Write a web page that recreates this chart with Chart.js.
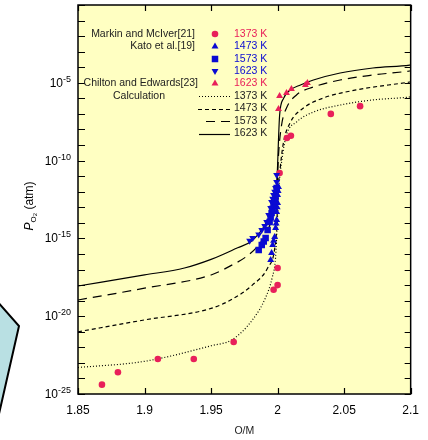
<!DOCTYPE html>
<html>
<head>
<meta charset="utf-8">
<script src="https://cdn.jsdelivr.net/npm/chart.js@4.4.1/dist/chart.umd.min.js"></script>
<style>
  html, body { margin: 0; padding: 0; background: #fff; }
  #wrap { width: 428px; height: 440px; }
</style>
</head>
<body>
<div id="wrap"><canvas id="chart" width="428" height="440"></canvas></div>
<script>
// x axis: O/M ratio, y axis: log10 of P_O2 (atm)
const xTicks = [1.85, 1.9, 1.95, 2, 2.05, 2.1];
const yExpLabels = [-25, -20, -15, -10, -5];

// Markin and McIver [21], 1373 K
const markinOM = [1.868, 1.880, 1.910, 1.937, 1.967, 1.997, 2.000, 2.000, 2.0015, 2.007, 2.010, 2.040, 2.062];
const markinLog = [-24.4, -23.6, -22.75, -22.75, -21.66, -18.3, -18.0, -16.9, -10.8, -8.55, -8.4, -7.0, -6.5];

// Kato et al. [19]
const kato1473OM = [1.9948, 1.9955, 1.9963, 1.9970, 1.9978, 1.9985, 1.9989, 1.9993, 1.9993, 1.9997, 2.0000, 2.0000, 2.0004, 2.0007];
const kato1473Log = [-16.39, -15.94, -15.42, -15.15, -14.91, -14.33, -14.05, -13.82, -13.30, -13.0, -12.72, -12.21, -11.95, -11.70];
const kato1573OM = [1.9858, 1.9881, 1.9896, 1.9910, 1.9925, 1.9940, 1.9948, 1.9955, 1.9963, 1.9970, 1.9978, 1.9985, 1.9993];
const kato1573Log = [-15.75, -15.42, -15.2, -14.97, -14.46, -13.95, -13.65, -13.37, -13.1, -12.85, -12.6, -12.34, -11.76];
const kato1623OM = [1.9790, 1.9813, 1.9858, 1.9881, 1.9903, 1.9918, 1.9933, 1.9948, 1.9955, 1.9963, 1.9970, 1.9978, 1.9985, 1.9993, 1.9993];
const kato1623Log = [-15.15, -14.97, -14.75, -14.46, -14.2, -13.95, -13.5, -13.05, -12.66, -12.45, -12.21, -12.0, -11.76, -11.38, -10.93];

// Chilton and Edwards [23], 1623 K
const chiltonOM = [2.0007, 2.0015, 2.0067, 2.0104, 2.0209, 2.0224];
const chiltonLog = [-6.68, -5.85, -5.66, -5.4, -5.14, -5.01];

// Calculation curves
const calc1373OM = [1.85, 1.9, 1.95, 1.966, 1.981, 1.991, 1.996, 1.9985, 2.0, 2.0012, 2.003, 2.0067, 2.0142, 2.0269, 2.047, 2.0716, 2.0993, 2.1];
const calc1373Log = [-23.3, -22.9, -21.9, -21.5, -20.25, -18.8, -17.5, -16.2, -13.5, -11.5, -10.09, -8.35, -7.52, -6.88, -6.43, -6.1, -5.91, -5.9];
const calc1473OM = [1.85, 1.9, 1.95, 1.966, 1.981, 1.9925, 1.998, 1.9995, 2.0, 2.0022, 2.0045, 2.0097, 2.0194, 2.0343, 2.059, 2.0993, 2.1];
const calc1473Log = [-21.0, -20.24, -19.5, -18.9, -18.0, -16.9, -15.55, -14.0, -12.5, -10.28, -8.8, -7.52, -6.62, -5.98, -5.46, -4.95, -4.94];
const calc1573OM = [1.85, 1.9, 1.95, 1.966, 1.976, 1.985, 1.992, 1.996, 1.999, 2.0, 2.0007, 2.003, 2.0067, 2.0142, 2.0269, 2.047, 2.0716, 2.0993, 2.1];
const calc1573Log = [-18.96, -18.2, -17.35, -16.7, -16.2, -15.5, -14.6, -13.6, -12.2, -11.0, -9.64, -7.71, -6.62, -5.78, -5.27, -4.82, -4.5, -4.24, -4.23];
const calc1623OM = [1.85, 1.9, 1.93, 1.95, 1.97, 1.98, 1.99, 1.995, 1.998, 1.9995, 2.0, 2.0007, 2.0015, 2.0045, 2.0097, 2.0172, 2.0269, 2.047, 2.0716, 2.0993, 2.1];
const calc1623Log = [-18.06, -17.35, -16.9, -16.35, -15.6, -15.2, -14.2, -13.3, -12.2, -11.2, -10.3, -8.6, -7.1, -6.0, -5.46, -5.14, -4.82, -4.37, -4.05, -3.86, -3.85];

const RED = '#e8205a';
const BLUE = '#0a0ad2';
const FONT = "'Liberation Sans', Arial, sans-serif";

function toPoints(xs, logs) {
    return xs.map((x, i) => ({ x: x, y: Math.pow(10, logs[i]) }));
}

function markerSet(label, xs, logs, color, style, radius, rotation) {
    return {
        label: label,
        data: toPoints(xs, logs),
        showLine: false,
        pointStyle: style,
        pointRadius: radius,
        pointRotation: rotation || 0,
        pointBackgroundColor: color,
        pointBorderColor: color,
        pointBorderWidth: 0
    };
}

function curveSet(label, xs, logs, dash) {
    return {
        label: label,
        data: toPoints(xs, logs),
        showLine: true,
        pointRadius: 0,
        borderColor: '#000',
        borderWidth: 1.2,
        borderDash: dash,
        cubicInterpolationMode: 'monotone',
        fill: false
    };
}

// background, decoration and plot area
const backdrop = {
    id: 'backdrop',
    beforeDraw(chart) {
        const ctx = chart.ctx;
        const a = chart.chartArea;
        ctx.save();
        ctx.fillStyle = '#fff';
        ctx.fillRect(0, 0, chart.width, chart.height);
        // light blue shape at the left border
        ctx.beginPath();
        ctx.moveTo(-4, 300);
        ctx.lineTo(19, 326);
        ctx.lineTo(-1, 414);
        ctx.closePath();
        ctx.fillStyle = '#b9e0e3';
        ctx.fill();
        ctx.lineWidth = 2;
        ctx.strokeStyle = '#000';
        ctx.stroke();
        ctx.fillStyle = '#ffffc2';
        ctx.fillRect(a.left, a.top, a.right - a.left, a.bottom - a.top);
        ctx.restore();
    }
};

// frame, inward ticks, y labels with exponent, y title, legend
const overlay = {
    id: 'overlay',
    afterDraw(chart) {
        const ctx = chart.ctx;
        const a = chart.chartArea;
        const xs = chart.scales.x;
        const ys = chart.scales.y;
        ctx.save();
        ctx.strokeStyle = '#000';
        ctx.lineWidth = 1.5;
        ctx.strokeRect(a.left, a.top, a.right - a.left, a.bottom - a.top);

        ctx.lineWidth = 1.2;
        ctx.beginPath();
        xTicks.forEach(v => {
            const px = Math.round(xs.getPixelForValue(v)) + 0.5;
            ctx.moveTo(px, a.bottom); ctx.lineTo(px, a.bottom - 6);
            ctx.moveTo(px, a.top); ctx.lineTo(px, a.top + 6);
        });
        for (let e = -25; e <= 0; e++) {
            const py = Math.round(ys.getPixelForValue(Math.pow(10, e))) + 0.5;
            ctx.moveTo(a.left, py); ctx.lineTo(a.left + 7, py);
            ctx.moveTo(a.right, py); ctx.lineTo(a.right - 6, py);
        }
        ctx.stroke();

        // y tick labels 10^n
        ctx.fillStyle = '#000';
        ctx.textBaseline = 'alphabetic';
        yExpLabels.forEach(e => {
            const py = ys.getPixelForValue(Math.pow(10, e));
            const sup = String(e);
            ctx.font = '9px ' + FONT;
            const w = ctx.measureText(sup).width;
            ctx.textAlign = 'right';
            ctx.fillText(sup, a.left - 7, py - 1);
            ctx.font = '12px ' + FONT;
            ctx.fillText('10', a.left - 7 - w, py + 4);
        });

        // y axis title
        ctx.save();
        ctx.translate(33, 206);
        ctx.rotate(-Math.PI / 2);
        ctx.textAlign = 'left';
        const parts = [
            { t: 'P', f: 'italic 12px ' + FONT, dy: 0 },
            { t: 'O', f: '8px ' + FONT, dy: 3 },
            { t: '2', f: '6px ' + FONT, dy: 4 },
            { t: ' (atm)', f: '12px ' + FONT, dy: 0 }
        ];
        let total = 0;
        parts.forEach(p => { ctx.font = p.f; p.w = ctx.measureText(p.t).width; total += p.w; });
        let cx = -total / 2;
        parts.forEach(p => { ctx.font = p.f; ctx.fillText(p.t, cx, p.dy); cx += p.w; });
        ctx.restore();

        // legend
        const rows = [34, 46.5, 59, 71, 83.5, 96, 108.5, 121, 133.5];
        ctx.font = '10.5px ' + FONT;
        ctx.textBaseline = 'middle';
        ctx.fillStyle = '#222';
        ctx.textAlign = 'right';
        ctx.fillText('Markin and McIver[21]', 195, rows[0]);
        ctx.fillText('Kato et al.[19]', 195, rows[1]);
        ctx.fillText('Chilton and Edwards[23]', 198, rows[4]);
        ctx.textAlign = 'center';
        ctx.fillText('Calculation', 139, rows[5]);

        const mx = 215;
        const keys = [
            { c: RED, s: 'circle', r: 3.3, rot: 0, t: '1373 K' },
            { c: BLUE, s: 'triangle', r: 4, rot: 0, t: '1473 K' },
            { c: BLUE, s: 'rect', r: 4.6, rot: 0, t: '1573 K' },
            { c: BLUE, s: 'triangle', r: 4, rot: 180, t: '1623 K' },
            { c: RED, s: 'triangle', r: 4, rot: 0, t: '1623 K' }
        ];
        keys.forEach((k, i) => {
            ctx.fillStyle = k.c;
            ctx.strokeStyle = k.c;
            Chart.helpers.drawPoint(ctx, { pointStyle: k.s, radius: k.r, rotation: k.rot, borderWidth: 0 }, mx, rows[i]);
            ctx.fillStyle = k.c;
            ctx.textAlign = 'left';
            ctx.fillText(k.t, 234, rows[i]);
        });
        const lines = [
            { d: [1, 2], x0: 199, t: '1373 K' },
            { d: [4, 3], x0: 198, t: '1473 K' },
            { d: [9, 6], x0: 206, t: '1573 K' },
            { d: [], x0: 199, t: '1623 K' }
        ];
        lines.forEach((l, i) => {
            const y = rows[5 + i];
            ctx.strokeStyle = '#000';
            ctx.lineWidth = 1.2;
            ctx.setLineDash(l.d);
            ctx.beginPath();
            ctx.moveTo(l.x0, Math.round(y) + 0.5);
            ctx.lineTo(230, Math.round(y) + 0.5);
            ctx.stroke();
            ctx.setLineDash([]);
            ctx.fillStyle = '#222';
            ctx.textAlign = 'left';
            ctx.fillText(l.t, 234, y);
        });
        ctx.restore();
    }
};

new Chart(document.getElementById('chart'), {
    type: 'scatter',
    data: {
        datasets: [
            markerSet('Chilton 1623 K', chiltonOM, chiltonLog, RED, 'triangle', 4),
            markerSet('Kato 1623 K', kato1623OM, kato1623Log, BLUE, 'triangle', 4, 180),
            markerSet('Kato 1573 K', kato1573OM, kato1573Log, BLUE, 'rect', 4.6),
            markerSet('Kato 1473 K', kato1473OM, kato1473Log, BLUE, 'triangle', 4),
            markerSet('Markin 1373 K', markinOM, markinLog, RED, 'circle', 3.3),
            curveSet('Calc 1623 K', calc1623OM, calc1623Log, []),
            curveSet('Calc 1573 K', calc1573OM, calc1573Log, [9, 6]),
            curveSet('Calc 1473 K', calc1473OM, calc1473Log, [4, 3]),
            curveSet('Calc 1373 K', calc1373OM, calc1373Log, [1, 2])
        ]
    },
    plugins: [backdrop, overlay],
    options: {
        responsive: false,
        animation: false,
        devicePixelRatio: 1,
        layout: { padding: { top: 5, right: 16, left: 0, bottom: 0 } },
        plugins: {
            legend: { display: false },
            tooltip: { enabled: false }
        },
        scales: {
            x: {
                type: 'linear',
                min: 1.85,
                max: 2.1,
                afterBuildTicks: scale => { scale.ticks = xTicks.map(v => ({ value: v })); },
                afterFit: scale => { scale.height = 46; },
                grid: { display: false, drawTicks: false },
                border: { display: false },
                ticks: {
                    padding: 9,
                    color: '#000',
                    font: { family: FONT, size: 12 },
                    maxRotation: 0,
                    autoSkip: false,
                    callback: v => String(Math.round(v * 100) / 100)
                },
                title: {
                    display: true,
                    text: 'O/M',
                    color: '#222',
                    font: { family: FONT, size: 10.5 },
                    padding: { top: 0, bottom: 3 }
                }
            },
            y: {
                type: 'logarithmic',
                min: 1e-25,
                max: 1,
                afterFit: scale => { scale.width = 78; },
                grid: { display: false, drawTicks: false },
                border: { display: false },
                ticks: { display: false }
            }
        }
    }
});
</script>
</body>
</html>
